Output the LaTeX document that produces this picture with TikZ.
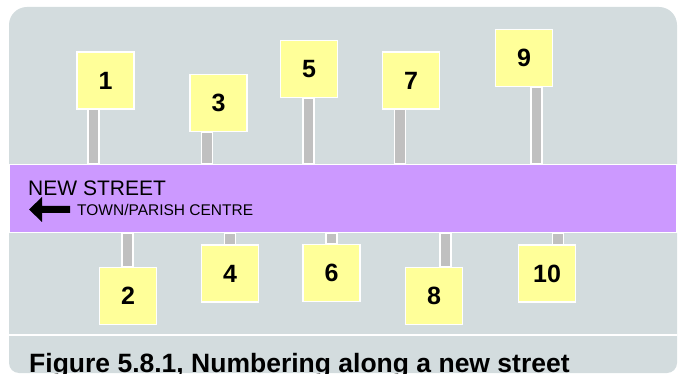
\documentclass[tikz,border=0pt]{standalone}
\usepackage{fontspec}
\setmainfont{Liberation Sans}
\definecolor{panelgray}{RGB}{211,220,222}
\definecolor{streetpurple}{RGB}{204,153,255}
\definecolor{signyellow}{RGB}{255,255,153}
\definecolor{postgray}{RGB}{192,192,192}
\begin{document}
\begin{tikzpicture}[x=1pt,y=-1pt,
    street/.style={draw=white,line width=1.5pt,fill=streetpurple,minimum width=668pt,minimum height=68pt,inner sep=0pt},
    sign/.style={draw=white,line width=1.2pt,fill=signyellow,minimum size=57pt,inner sep=0pt,font=\fontsize{25}{25}\selectfont\bfseries},
    post/.style={draw=white,line width=1.2pt,fill=postgray}]
    \useasboundingbox (0,0) rectangle (680,374);
    % panel
    \fill[panelgray] (9,200) [rounded corners=18pt] -- (9,7) -- (677,7) -- (677,200) [rounded corners=10pt] -- (677,373) -- (9,373) -- cycle;
    \draw[white,line width=1.5pt] (9,335) -- (677,335);
    \node[street](street)at(343,198.5){};
    % odd side
    \foreach \n/\x/\y/\p in {1/105.5/80.5/93.5,3/218.5/103/207,5/309/69/308.5,7/411/80.5/400,9/524/58/536.5}{
        \node[sign](s\n)at(\x,\y){\n};
        \draw[post](\p-5.5,0 |- s\n.south) rectangle (\p+5.5,0 |- street.north);
    }
    % even side
    \foreach \n/\x/\y/\p in {2/128/296/127.5,4/230/273.5/230,6/331.5/273/331.5,8/434/296/445.5,10/547/273.5/558}{
        \node[sign](s\n)at(\x,\y){\n};
        \draw[post](\p-5.5,0 |- street.south) rectangle (\p+5.5,0 |- s\n.north);
    }
    \node[anchor=base west,inner sep=0pt,font=\fontsize{21}{21}\selectfont](name)at(28,196){NEW STREET};
    \node[anchor=base west,inner sep=0pt,font=\fontsize{15.5}{15.5}\selectfont](dir)at(77,216){TOWN/PARISH CENTRE};
    \fill(29,209.5)--(42,197)--(42,206)--(70,206)--(70,213)--(42,213)--(42,222)--cycle;
    \node[anchor=base west,inner sep=0pt,font=\fontsize{26.5}{26.5}\selectfont\bfseries](caption)at(29,372){Figure 5.8.1, Numbering along a new street};
\end{tikzpicture}
\end{document}
